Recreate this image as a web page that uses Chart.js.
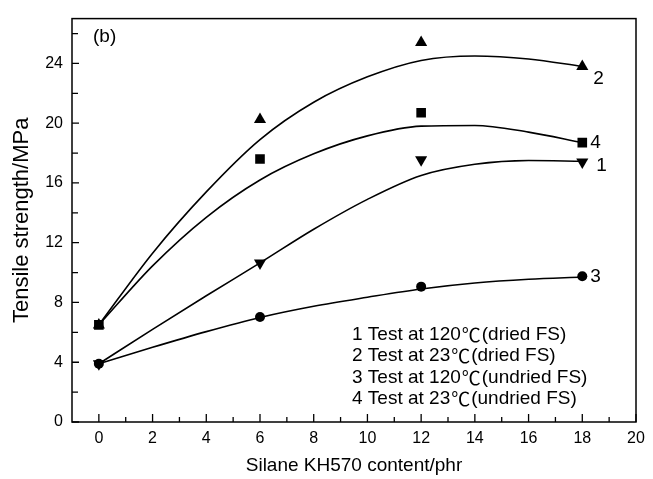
<!DOCTYPE html>
<html><head><meta charset="utf-8">
<script src="https://cdn.jsdelivr.net/npm/chart.js@4/dist/chart.umd.min.js"></script>
<style>html,body{margin:0;padding:0;background:#fff;}canvas{display:block}</style>
</head><body>
<canvas id="c" width="653" height="479"></canvas>
<script>
// measured points
const contentX = [0, 6, 12, 18];
const s1 = [3.9, 10.65, 17.55, 17.4];   // 1 Test at 120℃ (dried FS)
const s2 = [6.5, 20.25, 25.4, 23.8];    // 2 Test at 23℃ (dried FS)
const s3 = [3.9, 7.03, 9.06, 9.75];     // 3 Test at 120℃ (undried FS)
const s4 = [6.5, 17.6, 20.7, 18.7];     // 4 Test at 23℃ (undried FS)
// fitted curves
const fitX = [0, 2, 4, 6, 8, 10, 12, 14, 16, 18];
const fit1 = [3.9, 6.2, 8.45, 10.65, 12.9, 14.9, 16.5, 17.25, 17.5, 17.45];
const fit2 = [6.5, 11.3, 15.4, 18.9, 21.4, 23.1, 24.2, 24.5, 24.3, 23.8];
const fit3 = [3.9, 5.0, 6.05, 7.0, 7.75, 8.35, 8.9, 9.3, 9.55, 9.7];
const fit4 = [6.5, 10.45, 13.7, 16.2, 17.95, 19.15, 19.8, 19.85, 19.4, 18.7];
const legendLines = ['1 Test at 120℃(dried FS)', '2 Test at 23℃(dried FS)', '3 Test at 120℃(undried FS)', '4 Test at 23℃(undried FS)'];
const curveNumbers = ['1', '2', '3', '4'];
const panelLabel = '(b)';
const xTitle = 'Silane KH570 content/phr';
const yTitle = 'Tensile strength/MPa';
const xMajorTicks = [0, 2, 4, 6, 8, 10, 12, 14, 16, 18, 20];
const xMinorTicks = [1, 3, 5, 7, 9, 11, 13, 15, 17, 19];
const yMajorTicks = [0, 4, 8, 12, 16, 20, 24];
const yMinorTicks = [2, 6, 10, 14, 18, 22, 26];

const FONT = "'Liberation Sans', Arial, sans-serif";
const CJK = "'Noto Sans CJK SC', 'DejaVu Sans', sans-serif";
const pts = (xs, ys) => xs.map((x, i) => ({x, y: ys[i]}));

const fitStyle = {showLine: true, borderColor: '#000', borderWidth: 1.6, pointRadius: 0, cubicInterpolationMode: 'monotone', fill: false};
const markStyle = {showLine: false, backgroundColor: '#000', borderWidth: 0};

const numberOffsets = [[14, 4], [11, 12], [8, 0], [8, 0]];
const seriesVals = [s1, s2, s3, s4];

function drawMixed(ctx, text, x, y, size) {
  const parts = text.split('℃');
  let cx = x;
  parts.forEach((p, i) => {
    ctx.font = size + 'px ' + FONT;
    ctx.fillText(p, cx, y);
    cx += ctx.measureText(p).width;
    if (i < parts.length - 1) {
      ctx.font = size + 'px ' + CJK;
      ctx.fillText('℃', cx + 1, y);
      cx += ctx.measureText('℃').width + 2;
    }
  });
}

const decor = {
  id: 'decor',
  afterDraw(chart) {
    const {ctx, chartArea: a, scales: {x, y}} = chart;
    ctx.save();
    ctx.strokeStyle = '#000';
    ctx.lineWidth = 1.5;
    ctx.strokeRect(a.left, a.top, a.right - a.left, a.bottom - a.top);
    ctx.lineWidth = 1.3;
    ctx.beginPath();
    xMajorTicks.forEach(v => { const p = x.getPixelForValue(v); ctx.moveTo(p, a.bottom); ctx.lineTo(p, a.bottom - 8); });
    xMinorTicks.forEach(v => { const p = x.getPixelForValue(v); ctx.moveTo(p, a.bottom); ctx.lineTo(p, a.bottom - 5); });
    yMajorTicks.forEach(v => { const p = y.getPixelForValue(v); ctx.moveTo(a.left, p); ctx.lineTo(a.left + 7, p); });
    yMinorTicks.forEach(v => { const p = y.getPixelForValue(v); ctx.moveTo(a.left, p); ctx.lineTo(a.left + 6, p); });
    ctx.stroke();
    ctx.fillStyle = '#000';
    ctx.textBaseline = 'middle';
    ctx.textAlign = 'left';
    ctx.font = '19px ' + FONT;
    ctx.fillText(panelLabel, a.left + 21, a.top + 18);
    // curve numbers
    seriesVals.forEach((s, i) => {
      const px = x.getPixelForValue(contentX[contentX.length - 1]);
      const py = y.getPixelForValue(s[s.length - 1]);
      ctx.fillText(curveNumbers[i], px + numberOffsets[i][0], py + numberOffsets[i][1]);
    });
    // legend text block
    legendLines.forEach((t, i) => {
      drawMixed(ctx, t, a.left + 280, a.top + 316 + i * 21.5, 19);
    });
    ctx.restore();
  }
};

new Chart(document.getElementById('c'), {
  type: 'scatter',
  data: {
    datasets: [
      {...fitStyle, data: pts(fitX, fit1)},
      {...fitStyle, data: pts(fitX, fit2)},
      {...fitStyle, data: pts(fitX, fit3)},
      {...fitStyle, data: pts(fitX, fit4)},
      {...markStyle, data: pts(contentX, s1), pointStyle: 'triangle', rotation: 180, pointRadius: 7},
      {...markStyle, data: pts(contentX, s2), pointStyle: 'triangle', pointRadius: 7},
      {...markStyle, data: pts(contentX, s3), pointStyle: 'circle', pointRadius: 5},
      {...markStyle, data: pts(contentX, s4), pointStyle: 'rect', pointRadius: 6.8}
    ]
  },
  options: {
    responsive: false,
    animation: false,
    devicePixelRatio: 1,
    layout: {padding: {left: 0, right: 17, top: 10, bottom: 0}},
    plugins: {legend: {display: false}, tooltip: {enabled: false}},
    scales: {
      x: {
        type: 'linear', min: -1, max: 20,
        afterBuildTicks: s => { s.ticks = xMajorTicks.map(v => ({value: v})); },
        afterFit: s => { s.height = 57; },
        grid: {display: false, drawTicks: false},
        border: {display: false},
        ticks: {color: '#000', font: {family: FONT, size: 16}, padding: 7, maxRotation: 0, autoSkip: false},
        title: {display: true, text: xTitle, color: '#000', font: {family: FONT, size: 19}, padding: {top: 0, bottom: 2}}
      },
      y: {
        type: 'linear', min: 0, max: 27,
        afterBuildTicks: s => { s.ticks = yMajorTicks.map(v => ({value: v})); },
        afterFit: s => { s.width = 72; },
        grid: {display: false, drawTicks: false},
        border: {display: false},
        ticks: {color: '#000', font: {family: FONT, size: 16}, padding: 9, autoSkip: false},
        title: {display: true, text: yTitle, color: '#000', font: {family: FONT, size: 22}, padding: {top: 9, bottom: 0}}
      }
    }
  },
  plugins: [decor]
});
</script>
</body></html>
